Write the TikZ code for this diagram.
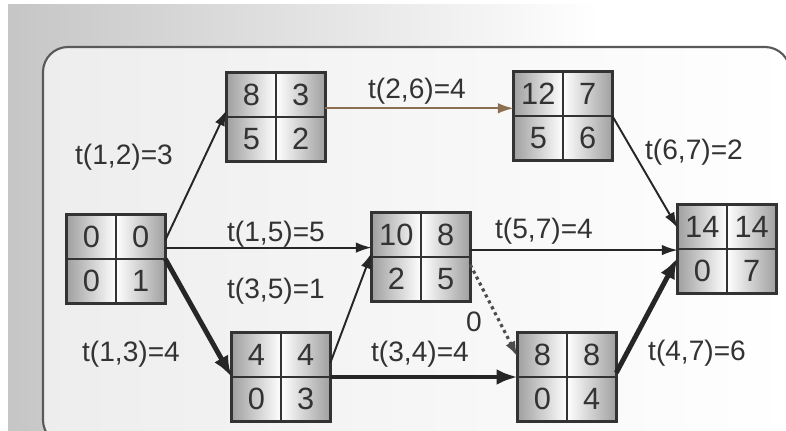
\documentclass[tikz,border=0pt]{standalone}
\usepackage{fontspec}
\setmainfont{Liberation Sans}
\usetikzlibrary{arrows.meta,calc,positioning}

\tikzset{
    evbox/.style={minimum width=1.96cm, minimum height=1.76cm, inner sep=0pt},
    num/.style={font=\fontsize{17.5}{20}\selectfont, text=black!80, inner sep=0pt},
    lbl/.style={font=\fontsize{16}{18}\selectfont, text=black!80, inner sep=0pt},
    act/.style={line width=1.1pt, black!85, -{Latex[length=9pt,width=6pt]}},
    crit/.style={line width=2.8pt, black!85, -{Latex[length=12pt,width=9pt]}},
    dummy/.style={line width=1.8pt, dotted, black!70, -{Latex[length=9pt,width=6pt]}},
}

% event box: name, position, early, late / reserve, number
\newcommand{\evnode}[6]{%
    \node[evbox] (#1) at (#2) {};
    \fill[left color=gray!75, right color=white] (#1.north west) rectangle (#1.center);
    \fill[left color=gray!75, right color=white] (#1.west) rectangle (#1.south);
    \fill[left color=white, right color=gray!75] (#1.north) rectangle (#1.east);
    \fill[left color=white, right color=gray!75] (#1.center) rectangle (#1.south east);
    \draw[line width=1.2pt, black!80] (#1.north) -- (#1.south) (#1.west) -- (#1.east);
    \draw[line width=1.8pt, black!80] (#1.north west) rectangle (#1.south east);
    \node[num] (#1a) at ($(#1.north west)!0.5!(#1.center)$) {#3};
    \node[num] (#1b) at ($(#1.north)!0.5!(#1.east)$) {#4};
    \node[num] (#1c) at ($(#1.west)!0.5!(#1.south)$) {#5};
    \node[num] (#1d) at ($(#1.center)!0.5!(#1.south east)$) {#6};
}

\begin{document}
\begin{tikzpicture}[x=0.02cm, y=-0.02cm]
    \useasboundingbox (0,0) rectangle (786,431);
    \clip (0,0) rectangle (786,431);

    % scanned page and frame
    \fill[white] (0,0) rectangle (786,431);
    \fill[left color=gray!45, right color=white] (8,5) rectangle (600,431);
    \draw[line width=1.2pt, black!65, left color=gray!14, middle color=white, right color=white, rounded corners=0.5cm]
        (43,47) rectangle (790,445);

    % events
    \evnode{n1}{116,259}{0}{0}{0}{1}
    \evnode{n2}{276,117}{8}{3}{5}{2}
    \evnode{n6}{563,116}{12}{7}{5}{6}
    \evnode{n5}{421,257}{10}{8}{2}{5}
    \evnode{n3}{281,377}{4}{4}{0}{3}
    \evnode{n4}{567,377}{8}{8}{0}{4}
    \evnode{n7}{727,249}{14}{14}{0}{7}

    % activities
    \draw[act] (n1.21) -- (n2.172);
    \draw[act, draw={rgb,255:red,140;green,110;blue,80}] (n2.10) -- (n2.10 -| n6.west);
    \draw[act] (n6.east) -- (n7.157);
    \draw[act] (n1.13) -- (n1.13 -| n5.west);
    \draw[act] (n3.16) -- (n5.175);
    \draw[act] (n5.8) -- (n5.8 -| n7.west);
    \draw[dummy] (n5.351) -- (n4.158);
    \draw[crit] (n1.east) -- (n3.west);
    \draw[crit] (n3.east) -- (n4.west);
    \draw[crit] (n4.5) -- (n7.190);

    % durations
    \node[lbl] (l12) at (124,157) {t(1,2)=3};
    \node[lbl] (l26) at (417,91) {t(2,6)=4};
    \node[lbl] (l67) at (694,152) {t(6,7)=2};
    \node[lbl] (l15) at (276,234) {t(1,5)=5};
    \node[lbl] (l35) at (276,291) {t(3,5)=1};
    \node[lbl] (l13) at (131,354) {t(1,3)=4};
    \node[lbl] (l34) at (420,354) {t(3,4)=4};
    \node[lbl] (l57) at (544,231) {t(5,7)=4};
    \node[lbl] (l54) at (474,322) {0};
    \node[lbl] (l47) at (697,353) {t(4,7)=6};
\end{tikzpicture}
\end{document}
